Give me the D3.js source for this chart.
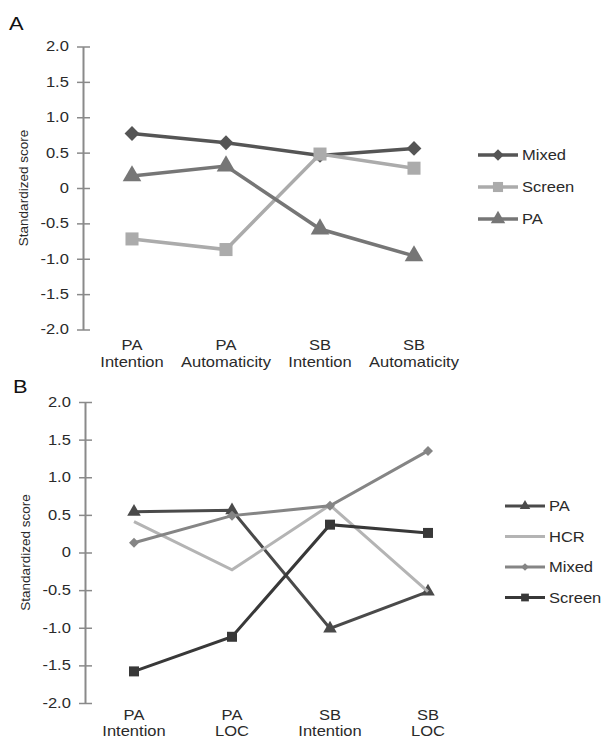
<!DOCTYPE html>
<html><head><meta charset="utf-8">
<script src="https://cdn.jsdelivr.net/npm/d3@7/dist/d3.min.js"></script>
<style>body{margin:0;background:#fff}svg{font-family:"Liberation Sans",Arial,sans-serif}</style>
</head><body>
<svg id="c" width="603" height="738"></svg>
<script>
// Panel A data
const catsA = [["PA","Intention"],["PA","Automaticity"],["SB","Intention"],["SB","Automaticity"]];
const mixedA = [0.77, 0.64, 0.46, 0.56];
const screenA = [-0.72, -0.87, 0.48, 0.28];
const paA = [0.17, 0.31, -0.58, -0.96];
// Panel B data
const catsB = [["PA","Intention"],["PA","LOC"],["SB","Intention"],["SB","LOC"]];
const paB = [0.54, 0.56, -1.01, -0.52];
const hcrB = [0.41, -0.23, 0.63, -0.52];
const mixedB = [0.13, 0.49, 0.62, 1.35];
const screenB = [-1.58, -1.12, 0.37, 0.26];
const yTicks = [2.0, 1.5, 1.0, 0.5, 0, -0.5, -1.0, -1.5, -2.0];
const yTickLabels = ["2.0","1.5","1.0","0.5","0","-0.5","-1.0","-1.5","-2.0"];

const SX = 1.18; // horizontal stretch of the original raster text
const svg = d3.select("#c");
const txtCol = "#2a2a2a";

function stext(g, x, y, str, size, anchor){
  return g.append("text").attr("transform",`translate(${x},${y}) scale(${SX},1)`)
    .attr("text-anchor",anchor||"start").attr("font-size",size).attr("fill",txtCol).text(str);
}
const diamond = {draw(ctx,size){const r=Math.sqrt(size)/Math.SQRT2*1.0; ctx.moveTo(0,-r);ctx.lineTo(r,0);ctx.lineTo(0,r);ctx.lineTo(-r,0);ctx.closePath();}};

function panel(cfg){
  const g = svg.append("g");
  const y = d3.scaleLinear().domain([-2,2]).range([cfg.y0, cfg.y1]);
  const x = d3.scalePoint().domain(d3.range(cfg.cats.length)).range([cfg.x0, cfg.x1]);
  const ax = d3.axisLeft(y).tickValues(yTicks).tickFormat((d,i)=>yTickLabels[i]).tickSize(0).tickPadding(12);
  const ag = g.append("g").attr("transform",`translate(${cfg.axisX},0)`).call(ax);
  ag.select(".domain").attr("stroke","#8a8a8a").attr("stroke-width",2);
  ag.selectAll(".tick line").attr("x1",-6).attr("x2",7).attr("stroke","#8a8a8a").attr("stroke-width",1.5);
  ag.selectAll(".tick text").attr("fill",txtCol).attr("font-size",14).attr("transform",`scale(${SX},1)`);
  cfg.cats.forEach((c,i)=>{
    stext(g, x(i), cfg.labY, c[0], 14, "middle");
    stext(g, x(i), cfg.labY+cfg.labGap, c[1], 14, "middle");
  });
  g.append("text").attr("transform",`translate(${cfg.titleX},${(cfg.y0+cfg.y1)/2}) rotate(-90)`)
    .attr("text-anchor","middle").attr("font-size",13.5).attr("fill",txtCol).text("Standardized score");
  stext(g, cfg.letterX, cfg.letterY, cfg.letter, 18.5).attr("fill","#111");
  const line = d3.line().x((d,i)=>x(i)).y(d=>y(d));
  cfg.series.forEach((s,k)=>{
    g.append("path").datum(s.values).attr("d",line).attr("fill","none")
      .attr("stroke",s.color).attr("stroke-width",s.width);
    if(s.symbol){
      g.selectAll(null).data(s.values).enter().append("path")
        .attr("transform",(d,i)=>`translate(${x(i)},${y(d)})`)
        .attr("d",d3.symbol().type(s.symbol).size(s.size)).attr("fill",s.color);
    }
    const ly = cfg.legY + k*cfg.legGap;
    g.append("line").attr("x1",cfg.legX).attr("x2",cfg.legX+40).attr("y1",ly).attr("y2",ly)
      .attr("stroke",s.color).attr("stroke-width",s.width);
    if(s.symbol){
      g.append("path").attr("transform",`translate(${cfg.legX+20},${ly})`)
        .attr("d",d3.symbol().type(s.symbol).size(s.size*0.6)).attr("fill",s.color);
    }
    stext(g, cfg.legX+44, ly+5, s.name, 14);
  });
}

panel({
  cats:catsA, y0:329.5, y1:46.5, x0:132, x1:414, axisX:83, labY:350, labGap:17, titleX:28,
  letter:"A", letterX:9, letterY:30,
  legX:478, legY:155, legGap:32,
  series:[
    {name:"Mixed", values:mixedA, color:"#555555", width:3.5, symbol:diamond, size:110},
    {name:"Screen", values:screenA, color:"#ababab", width:3.5, symbol:d3.symbolSquare, size:170},
    {name:"PA", values:paA, color:"#767676", width:3.5, symbol:d3.symbolTriangle, size:150}
  ]
});
panel({
  cats:catsB, y0:703, y1:402, x0:134, x1:428, axisX:85, labY:720, labGap:15.5, titleX:30,
  letter:"B", letterX:13, letterY:393,
  legX:505, legY:506, legGap:30.5,
  series:[
    {name:"PA", values:paB, color:"#4a4a4a", width:3, symbol:d3.symbolTriangle, size:80},
    {name:"HCR", values:hcrB, color:"#b4b4b4", width:3, symbol:null},
    {name:"Mixed", values:mixedB, color:"#858585", width:3, symbol:diamond, size:50},
    {name:"Screen", values:screenB, color:"#383838", width:3, symbol:d3.symbolSquare, size:100}
  ]
});
</script>
</body></html>
